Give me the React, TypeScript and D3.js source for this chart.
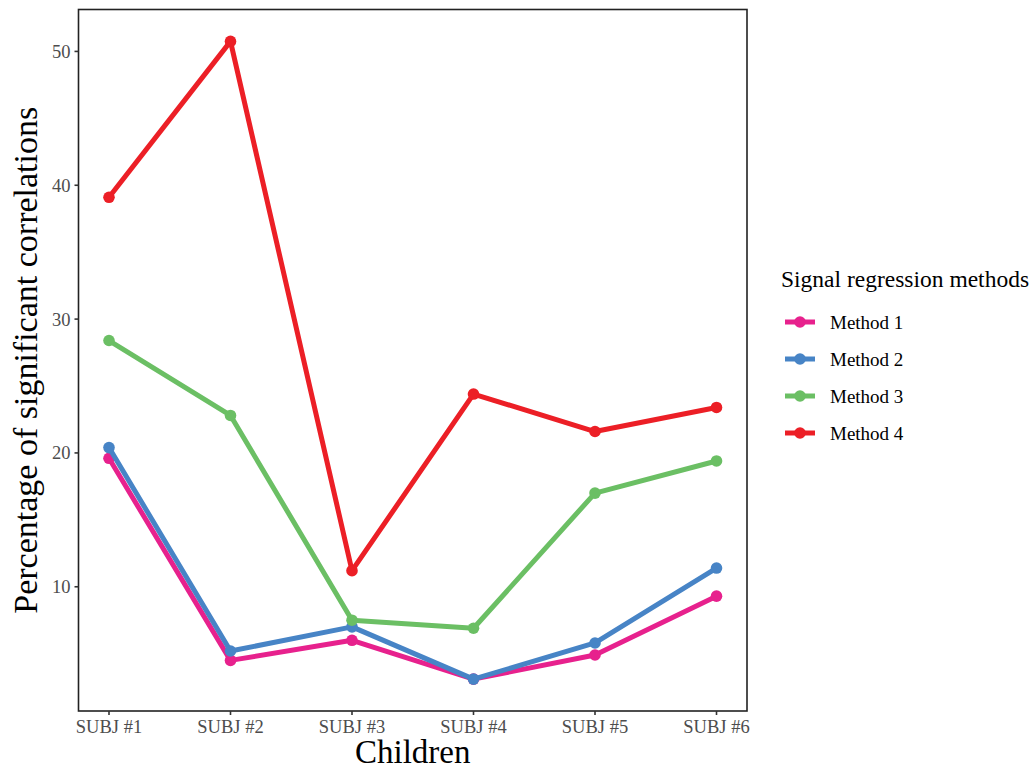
import React from "react";
import * as d3 from "d3";

const categories = ["SUBJ #1", "SUBJ #2", "SUBJ #3", "SUBJ #4", "SUBJ #5", "SUBJ #6"];
const method1 = [19.6, 4.5, 6.0, 3.1, 4.9, 9.3];
const method2 = [20.4, 5.2, 7.0, 3.1, 5.8, 11.4];
const method3 = [28.4, 22.8, 7.5, 6.9, 17.0, 19.4];
const method4 = [39.1, 50.75, 11.2, 24.4, 21.6, 23.4];
const seriesNames = ["Method 1", "Method 2", "Method 3", "Method 4"];
const yTicks = [10, 20, 30, 40, 50];

const colors = ["#e7218d", "#4784c6", "#6bbf64", "#ec1f26"];

export default function App() {
  const W = 1032, H = 771;
  const left = 78.5, right = 747, top = 9.5, bottom = 711;
  const allSeries = [method1, method2, method3, method4];
  const all = allSeries.flat();
  const mn = d3.min(all)!, mx = d3.max(all)!;
  const pad = (mx - mn) * 0.05;
  const y = d3.scaleLinear().domain([mn - pad, mx + pad]).range([bottom, top]);
  const x = d3.scalePoint<string>().domain(categories).range([left, right]).padding(0.251);
  const line = d3.line<number>().x((_, i) => x(categories[i])!).y((d) => y(d));
  const font = "'Liberation Serif', 'Times New Roman', serif";
  return (
    <svg width={W} height={H} style={{ position: "absolute", left: 0, top: 0, background: "#fff" }} fontFamily={font}>
      <rect x={0} y={0} width={W} height={H} fill="#fff" />
      {allSeries.map((s, si) => (
        <g key={si}>
          <path d={line(s)!} fill="none" stroke={colors[si]} strokeWidth={5} strokeLinejoin="round" />
          {s.map((v, i) => (
            <circle key={i} cx={x(categories[i])} cy={y(v)} r={5.8} fill={colors[si]} />
          ))}
        </g>
      ))}
      <rect x={left} y={top} width={right - left} height={bottom - top} fill="none" stroke="#222" strokeWidth={1.6} />
      {yTicks.map((t) => (
        <g key={t}>
          <line x1={left - 4} x2={left} y1={y(t)} y2={y(t)} stroke="#333" strokeWidth={1.6} />
          <text x={left - 8} y={y(t)} dy="0.35em" textAnchor="end" fontSize={18.5} fill="#4d4d4d">{t}</text>
        </g>
      ))}
      {categories.map((c) => (
        <g key={c}>
          <line x1={x(c)} x2={x(c)} y1={bottom} y2={bottom + 4} stroke="#333" strokeWidth={1.6} />
          <text x={x(c)} y={bottom + 22} textAnchor="middle" fontSize={18.5} fill="#4d4d4d">{c}</text>
        </g>
      ))}
      <text x={(left + right) / 2} y={763} textAnchor="middle" fontSize={33} fill="#000">Children</text>
      <text transform={`translate(37, ${(top + bottom) / 2}) rotate(-90)`} textAnchor="middle" fontSize={34} fill="#000">
        Percentage of significant correlations
      </text>
      <text x={781} y={287} fontSize={23.5} fill="#000">Signal regression methods</text>
      {seriesNames.map((n, i) => {
        const ky = 322 + i * 37;
        return (
          <g key={n}>
            <line x1={785} x2={815} y1={ky} y2={ky} stroke={colors[i]} strokeWidth={5} />
            <circle cx={800} cy={ky} r={5.8} fill={colors[i]} />
            <text x={830} y={ky} dy="0.35em" fontSize={19} fill="#000">{n}</text>
          </g>
        );
      })}
    </svg>
  );
}
